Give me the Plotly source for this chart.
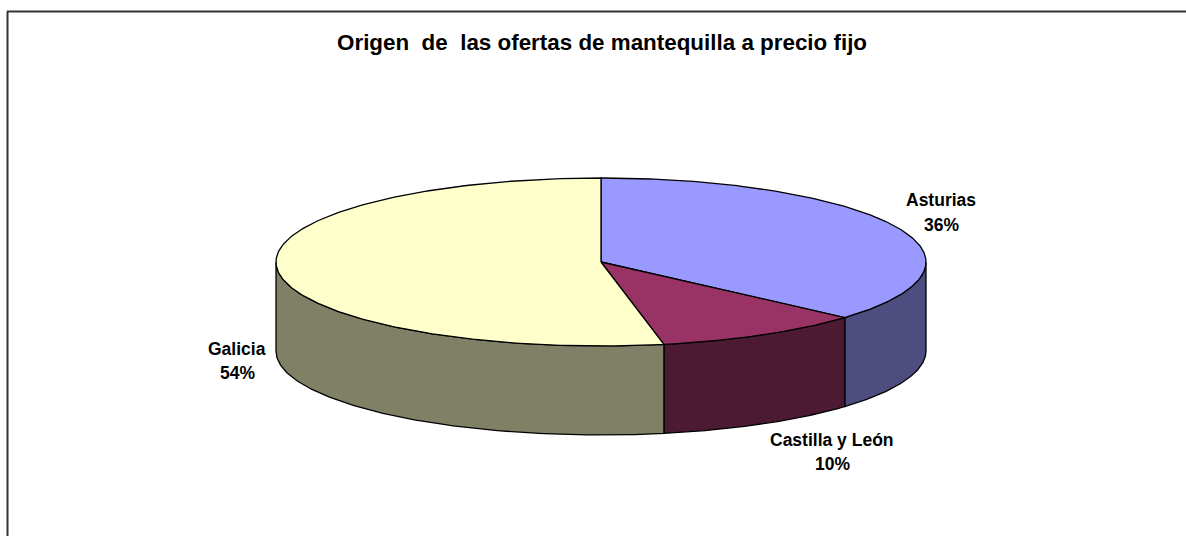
import numpy as np
import plotly.graph_objects as go

categories = ["Asturias", "Castilla y León", "Galicia"]
values = [36.5, 10.4, 53.1]          # slice sizes as drawn
percent_labels = ["36%", "10%", "54%"]
top_colors = ["#9999FF", "#993366", "#FFFFCC"]
side_colors = ["#4D4D80", "#4D1A33", "#808066"]
label_positions = [(941, 212.5), (832, 452), (237, 361)]

CX, CY, RX, RY, DEPTH = 601, 262, 325, 84, 89
FONT = "Liberation Sans, Arial, sans-serif"
INK = "#000000"


def point(deg, drop=0.0):
    r = np.radians(deg)
    return CX + RX * np.sin(r), CY - RY * np.cos(r) + drop


fig = go.Figure()
edges = np.cumsum([0] + values) / sum(values) * 360

# visible outer walls (front half: 90..270 degrees from twelve o'clock)
for i in range(len(values)):
    a, b = max(edges[i], 90), min(edges[i + 1], 270)
    if a >= b:
        continue
    t = np.linspace(a, b, 120)
    xt, yt = point(t)
    xb, yb = point(t[::-1], DEPTH)
    fig.add_trace(go.Scatter(
        x=np.r_[xt, xb, xt[0]], y=np.r_[yt, yb, yt[0]], mode="lines", fill="toself",
        fillcolor=side_colors[i], line=dict(color=INK, width=1.3), hoverinfo="skip",
        showlegend=False))

# top faces
for i in range(len(values)):
    t = np.linspace(edges[i], edges[i + 1], 240)
    xt, yt = point(t)
    fig.add_trace(go.Scatter(
        x=np.r_[CX, xt, CX], y=np.r_[CY, yt, CY], mode="lines", fill="toself",
        fillcolor=top_colors[i], line=dict(color=INK, width=1.3), name=categories[i],
        hoverinfo="name", showlegend=False))

annotations = [dict(
    x=602, y=42, xref="x", yref="y", showarrow=False,
    text="Origen\u00a0 de\u00a0 las ofertas de mantequilla a precio fijo",
    font=dict(family=FONT, size=22.4, color="#000000", weight="bold"))]
for name, pct, (lx, ly) in zip(categories, percent_labels, label_positions):
    for line, off in ((name, -12.2), (pct, 12.2)):
        annotations.append(dict(
            x=lx, y=ly + off, xref="x", yref="y", showarrow=False, align="center",
            text=line,
            font=dict(family=FONT, size=17.5, color="#000000", weight="bold")))

fig.update_layout(
    width=1186, height=536, autosize=False,
    margin=dict(l=0, r=0, t=0, b=0),
    paper_bgcolor="white", plot_bgcolor="white",
    xaxis=dict(range=[0, 1186], visible=False, fixedrange=True),
    yaxis=dict(range=[536, 0], visible=False, fixedrange=True),
    annotations=annotations,
    shapes=[dict(type="line", x0=7.5, x1=7.5, y0=11.5, y1=536, xref="x", yref="y",
                 line=dict(color="#333333", width=2)),
            dict(type="line", x0=7, x1=1186, y0=11.5, y1=11.5, xref="x", yref="y",
                 line=dict(color="#333333", width=2))],
)
fig.write_html("out.html", config=dict(displayModeBar=False),
               post_script="document.body.style.margin='0';document.documentElement.style.overflow='hidden';")
